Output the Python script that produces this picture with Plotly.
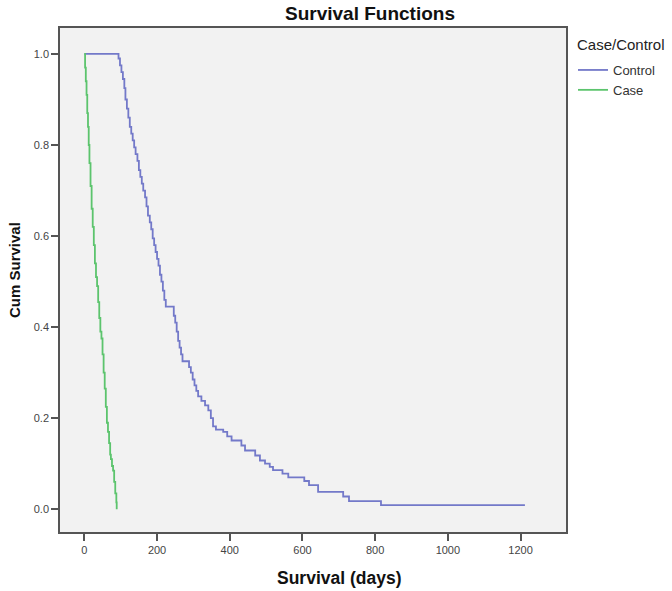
import plotly.graph_objects as go

# Control group: step times (days) and cumulative survival after each step
control_days = [0, 90, 94, 98, 102, 106, 110, 113, 117, 121, 125, 129, 133, 137, 141,
                146, 150, 154, 158, 162, 167, 171, 175, 180, 184, 188, 192, 196, 200,
                204, 208, 212, 216, 220, 224, 246, 250, 254, 258, 262, 266, 270, 288,
                293, 298, 303, 308, 313, 322, 332, 341, 348, 354, 362, 382, 393, 405,
                432, 442, 470, 483, 497, 510, 519, 545, 561, 605, 618, 643, 712, 728,
                816, 1212]
control_surv = [1.0, 1.0, 0.99, 0.975, 0.96, 0.945, 0.925, 0.90, 0.88, 0.86, 0.84, 0.825,
                0.81, 0.795, 0.78, 0.765, 0.745, 0.73, 0.715, 0.70, 0.685, 0.665, 0.645,
                0.63, 0.615, 0.595, 0.58, 0.565, 0.55, 0.535, 0.515, 0.50, 0.48, 0.46,
                0.445, 0.425, 0.41, 0.39, 0.37, 0.355, 0.34, 0.325, 0.312, 0.30, 0.285,
                0.272, 0.26, 0.248, 0.238, 0.228, 0.217, 0.20, 0.182, 0.175, 0.17, 0.16,
                0.151, 0.14, 0.129, 0.118, 0.107, 0.10, 0.093, 0.086, 0.078, 0.07, 0.062,
                0.053, 0.038, 0.028, 0.018, 0.009, 0.009]

# Case group
case_days = [0, 2, 4, 6, 8, 10, 12, 14, 17, 20, 23, 26, 29, 32, 35, 38, 41, 44, 47, 50,
             53, 56, 59, 62, 65, 68, 71, 73, 76, 79, 82, 85, 88, 89]
case_surv = [1.0, 0.97, 0.94, 0.91, 0.87, 0.84, 0.80, 0.76, 0.71, 0.66, 0.62, 0.58, 0.54,
             0.51, 0.49, 0.455, 0.42, 0.39, 0.375, 0.34, 0.30, 0.265, 0.225, 0.19, 0.17,
             0.145, 0.12, 0.11, 0.095, 0.085, 0.06, 0.035, 0.015, 0.0]

x_ticks = [0, 200, 400, 600, 800, 1000, 1200]
y_ticks = [0.0, 0.2, 0.4, 0.6, 0.8, 1.0]
y_tick_labels = ["0.0", "0.2", "0.4", "0.6", "0.8", "1.0"]

FONT = "Liberation Sans, Arial, sans-serif"

# plot area in pixels: x 60..566, y 28..532
L, R, T, B = 60, 566, 28, 532
W, H = 672, 591


def px_x(p):
    return (p - L) / (R - L)


def px_y(p):
    return (B - p) / (B - T)


fig = go.Figure()
fig.add_trace(go.Scatter(x=control_days, y=control_surv, mode="lines", name="Control",
                         line=dict(color="#7379c9", width=1.8, shape="hv")))
fig.add_trace(go.Scatter(x=case_days, y=case_surv, mode="lines", name="Case",
                         line=dict(color="#5cc46d", width=1.8, shape="hv")))

fig.update_layout(
    width=W, height=H,
    margin=dict(l=L, r=W - R, t=T, b=H - B, autoexpand=False),
    paper_bgcolor="white", plot_bgcolor="#f2f2f2",
    font=dict(family=FONT, color="#333333", size=12),
    title=dict(text="<b>Survival Functions</b>", x=370 / W, xanchor="center",
               y=1 - 13 / H, yanchor="middle",
               font=dict(family=FONT, size=19, color="#111111")),
    showlegend=True,
    legend=dict(x=px_x(573), xanchor="left", y=px_y(55), yanchor="top",
                bgcolor="rgba(0,0,0,0)", itemwidth=30,
                font=dict(size=13, color="#333333"), tracegroupgap=0),
    annotations=[
        dict(text="Case/Control", xref="paper", yref="paper",
             x=px_x(575), xanchor="left", y=px_y(44), yanchor="middle",
             showarrow=False, font=dict(size=15, color="#222222")),
        dict(text="<b>Cum Survival</b>", xref="paper", yref="paper",
             x=px_x(14), xanchor="center", y=px_y(270), yanchor="middle",
             textangle=-90, showarrow=False,
             font=dict(size=15, color="#111111")),
        dict(text="<b>Survival (days)</b>", xref="paper", yref="paper",
             x=px_x(339), xanchor="center", y=px_y(578), yanchor="middle",
             showarrow=False, font=dict(size=17.5, color="#111111")),
    ],
    xaxis=dict(range=[-67, 1325], tickvals=x_ticks, showgrid=False, zeroline=False,
               showline=True, linecolor="#555555", linewidth=1.5, mirror=True,
               ticks="outside", ticklen=7, tickcolor="#555555", tickwidth=1.5,
               tickfont=dict(size=11, color="#444444"), automargin=False),
    yaxis=dict(range=[-0.05, 1.057], tickvals=y_ticks, ticktext=y_tick_labels,
               showgrid=False, zeroline=False,
               showline=True, linecolor="#555555", linewidth=1.5, mirror=True,
               ticks="outside", ticklen=7, tickcolor="#555555", tickwidth=1.5,
               tickfont=dict(size=11, color="#444444"), automargin=False),
)

fig.write_html("out.html", config={"displayModeBar": False},
               post_script="document.body.style.margin='0';")
